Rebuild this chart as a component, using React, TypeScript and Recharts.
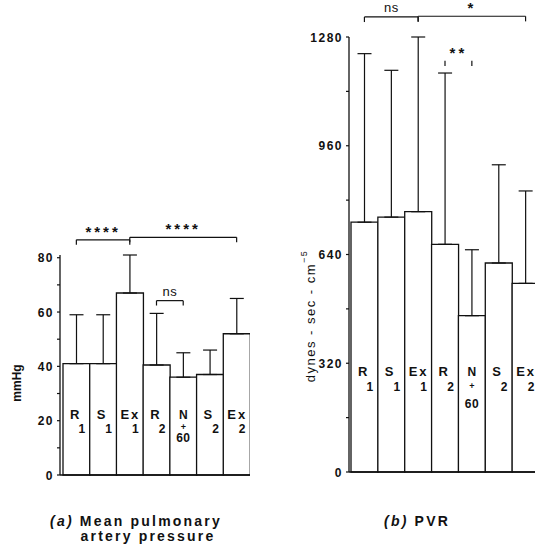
import React from 'react'
import { BarChart, Bar, XAxis, YAxis, ErrorBar, LabelList, ReferenceLine } from 'recharts'

const FONT = '"Liberation Sans", Arial, Helvetica, sans-serif'

const categories = ['R1', 'S1', 'Ex1', 'R2', 'N+60', 'S2', 'Ex2']
const barText: string[][] = [['R', '1'], ['S', '1'], ['Ex', '1'], ['R', '2'], ['N', '+', '60'], ['S', '2'], ['Ex', '2']]

// (a) mean pulmonary artery pressure, mmHg
const mpapMean = [41, 41, 67, 40.5, 36, 37, 52]
const mpapUpper = [59, 59, 81, 59.5, 45, 46, 65]
const mpapTicks = [0, 10, 20, 30, 40, 50, 60, 70, 80]
const mpapTickLabels = [0, 20, 40, 60, 80]

// (b) PVR, dynes-sec-cm-5
const pvrMean = [735, 750, 766, 670, 460, 615, 555]
const pvrUpper = [1231, 1182, 1280, 1174, 654, 904, 827]
const pvrTicks = [0, 160, 320, 480, 640, 800, 960, 1120, 1280]
const pvrTickLabels = [0, 320, 640, 960, 1280]

interface Bracket {
  from: string
  to: string
  y: number
  text: string
  open?: boolean
}

const mpapBrackets: Bracket[] = [
  { from: 'R1', to: 'Ex1', y: 86.6, text: '****' },
  { from: 'Ex1', to: 'Ex2', y: 87.5, text: '****' },
  { from: 'R2', to: 'N+60', y: 64.2, text: 'ns' },
]
const pvrBrackets: Bracket[] = [
  { from: 'R1', to: 'Ex1', y: 1339, text: 'ns' },
  { from: 'Ex1', to: 'Ex2', y: 1341, text: '*' },
  { from: 'R2', to: 'N+60', y: 1210, text: '**', open: true },
]

const mpapData = categories.map((name, i) => ({
  name,
  value: mpapMean[i],
  err: [0, mpapUpper[i] - mpapMean[i]],
}))
const pvrData = categories.map((name, i) => ({
  name,
  value: pvrMean[i],
  err: [0, pvrUpper[i] - pvrMean[i]],
}))

const axisTick = (labels: number[]) => (props: any) => {
  const { x, y, payload } = props
  if (!labels.includes(payload.value)) return <g />
  return (
    <text
      x={x}
      y={y}
      dy={4.5}
      textAnchor="end"
      fontFamily={FONT}
      fontSize={12}
      fontWeight="bold"
      letterSpacing={1.5}
      fill="#111"
    >
      {payload.value}
    </text>
  )
}

// text inside bars sits at a fixed height above the baseline
const barLabel = (mainOff: number, subOff: number, plusOff: number, sixtyOff: number) => (props: any) => {
  const vb = props.viewBox ?? props
  const x = Number(vb.x)
  const w = Number(vb.width)
  const bottom = Number(vb.y) + Number(vb.height)
  const lines = barText[categories.indexOf(props.value)]
  if (!lines) return null
  const common = { fontFamily: FONT, fontWeight: 'bold' as const, fill: '#111' }
  if (lines.length === 3) {
    const cx = x + w / 2
    return (
      <g>
        <text x={cx} y={bottom - mainOff} textAnchor="middle" fontSize={12} {...common}>{lines[0]}</text>
        <text x={cx} y={bottom - plusOff} textAnchor="middle" fontSize={9} {...common}>{lines[1]}</text>
        <text x={cx} y={bottom - sixtyOff} textAnchor="middle" fontSize={12} letterSpacing={0.5} {...common}>{lines[2]}</text>
      </g>
    )
  }
  return (
    <g>
      <text x={x + (lines[0].length > 1 ? 4 : 7)} y={bottom - mainOff} fontSize={13} letterSpacing={lines[0].length > 1 ? 2 : 0} {...common}>
        {lines[0]}
      </text>
      <text x={x + w * 0.7} y={bottom - subOff} textAnchor="middle" fontSize={12} {...common}>
        {lines[1]}
      </text>
    </g>
  )
}

const bracketLines = (b: Bracket, drop: number, key: string, fontSize: number, bold: boolean) => {
  const label = {
    value: b.text,
    position: 'top' as const,
    offset: bold ? 3 : 5,
    fill: '#111',
    fontSize,
    fontWeight: bold ? 'bold' : 'normal',
    fontFamily: FONT,
    letterSpacing: bold ? 3 : 0.5,
  }
  return [
    <ReferenceLine
      key={key + 'h'}
      segment={[{ x: b.from, y: b.y }, { x: b.to, y: b.y }]}
      stroke="#111"
      strokeWidth={b.open ? 0 : 1.2}
      strokeOpacity={b.open ? 0 : 1}
      ifOverflow="visible"
      label={label}
    />,
    <ReferenceLine
      key={key + 'l'}
      segment={[{ x: b.from, y: b.y }, { x: b.from, y: b.y - drop }]}
      stroke="#111"
      strokeWidth={1.2}
      ifOverflow="visible"
    />,
    <ReferenceLine
      key={key + 'r'}
      segment={[{ x: b.to, y: b.y }, { x: b.to, y: b.y - drop }]}
      stroke="#111"
      strokeWidth={1.2}
      ifOverflow="visible"
    />,
  ]
}

const titleStyle = {
  fontFamily: FONT,
  fontSize: 14,
  fontWeight: 'bold' as const,
  letterSpacing: 2.2,
  fill: '#111',
}

export default function App() {
  return (
    <div
      style={{
        position: 'fixed',
        left: 0,
        top: 0,
        width: 535,
        height: 552,
        overflow: 'hidden',
        background: '#fff',
        fontFamily: FONT,
      }}
    >
      <div style={{ position: 'absolute', left: 0, top: 0 }}>
        <BarChart
          width={250}
          height={552}
          data={mpapData}
          margin={{ top: 255, right: 0, bottom: 77, left: 0 }}
          barCategoryGap={0}
          barGap={0}
        >
          <XAxis dataKey="name" hide padding={{ left: 3, right: 0 }} />
          <YAxis
            width={60}
            domain={[0, 80]}
            ticks={mpapTicks}
            interval={0}
            tickSize={3}
            tickMargin={3}
            axisLine={{ stroke: '#111', strokeWidth: 1.3 }}
            tickLine={{ stroke: '#111', strokeWidth: 1.2 }}
            tick={axisTick(mpapTickLabels)}
          />
          <ReferenceLine y={0} stroke="#111" strokeWidth={1.4} />
          <Bar dataKey="value" fill="#fff" stroke="#111" strokeWidth={1.3} isAnimationActive={false}>
            <ErrorBar dataKey="err" width={7} stroke="#111" strokeWidth={1.2} />
            <LabelList dataKey="name" content={barLabel(56, 42, 45, 33)} />
          </Bar>
          {mpapBrackets.flatMap((b, i) => bracketLines(b, 1.8, 'a' + i, b.text === 'ns' ? 13 : 15, b.text !== 'ns'))}
        </BarChart>
      </div>

      <div style={{ position: 'absolute', left: 290, top: 0 }}>
        <BarChart
          width={249}
          height={552}
          data={pvrData}
          margin={{ top: 37, right: 0, bottom: 80, left: 0 }}
          barCategoryGap={0}
          barGap={0}
        >
          <XAxis dataKey="name" hide padding={{ left: 2, right: 0 }} />
          <YAxis
            width={59}
            domain={[0, 1280]}
            ticks={pvrTicks}
            interval={0}
            tickSize={3}
            tickMargin={3}
            axisLine={{ stroke: '#111', strokeWidth: 1.3 }}
            tickLine={{ stroke: '#111', strokeWidth: 1.2 }}
            tick={axisTick(pvrTickLabels)}
          />
          <ReferenceLine y={0} stroke="#111" strokeWidth={1.4} />
          <Bar dataKey="value" fill="#fff" stroke="#111" strokeWidth={1.3} isAnimationActive={false}>
            <ErrorBar dataKey="err" width={7} stroke="#111" strokeWidth={1.2} />
            <LabelList dataKey="name" content={barLabel(96, 81, 83, 64)} />
          </Bar>
          {pvrBrackets.flatMap((b, i) => bracketLines(b, 15, 'b' + i, b.text === 'ns' ? 13 : 15, b.text !== 'ns'))}
        </BarChart>
      </div>

      <svg width={535} height={552} style={{ position: 'absolute', left: 0, top: 0, pointerEvents: 'none' }}>
        <text
          x={17}
          y={383}
          transform="rotate(-90 17 383)"
          textAnchor="middle"
          dominantBaseline="central"
          fontFamily={FONT}
          fontSize={12}
          fontWeight="bold"
          fill="#111"
        >
          mmHg
        </text>
        <text
          x={310}
          y={316}
          transform="rotate(-90 310 316)"
          textAnchor="middle"
          dominantBaseline="central"
          fontFamily={FONT}
          fontSize={13}
          letterSpacing={1.5}
          fill="#111"
        >
          dynes - sec - cm
          <tspan fontSize={9} dy={-6}>−5</tspan>
        </text>
        <text x={136} y={525.5} textAnchor="middle" {...titleStyle}>
          <tspan fontStyle="italic">(a)</tspan> Mean pulmonary
        </text>
        <text x={148} y={540.5} textAnchor="middle" {...titleStyle}>
          artery pressure
        </text>
        <text x={417} y={525.5} textAnchor="middle" {...titleStyle}>
          <tspan fontStyle="italic">(b)</tspan> PVR
        </text>
      </svg>
    </div>
  )
}
